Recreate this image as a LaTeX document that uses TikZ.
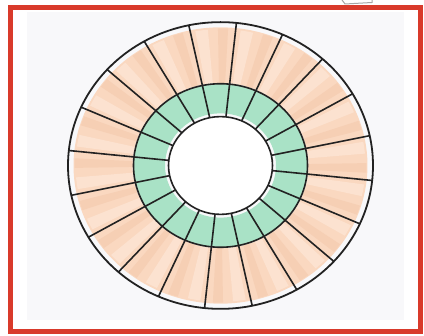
\documentclass[tikz,border=0pt]{standalone}
\definecolor{redb}{HTML}{D93A2B}
\definecolor{bg}{HTML}{F8F8FA}
\definecolor{peach}{HTML}{FAD8C0}
\definecolor{peachl}{HTML}{FCE2D0}
\definecolor{peachd}{HTML}{F6CFB4}
\definecolor{mint}{HTML}{A9E2C6}
\definecolor{ink}{HTML}{222222}
\tikzset{
  spoke/.style={draw=ink, line width=1.6pt},
  ringline/.style={draw=ink, line width=1.6pt},
}
\begin{document}
\begin{tikzpicture}[x=1pt,y=-1pt]
\useasboundingbox (0,0) rectangle (424,336);
\fill[white] (0,0) rectangle (424,336);
\fill[bg] (27,12) rectangle (404,320);
\draw[redb, line width=5pt] (10.5,7.5) rectangle (420.5,332);
\draw[gray!70, line width=1pt] (342,0) -- (345,4) -- (372,2.5) -- (372,0);
\begin{scope}[shift={(220.5,165.5)}, yscale=0.94]
  \foreach \k [evaluate=\k as \a using 6+18*\k] in {0,...,19} {
    \fill[peach] (\a:88) arc[start angle=\a, end angle=\a+18, radius=88]
      -- (\a+18:147) arc[start angle=\a+18, end angle=\a, radius=147] -- cycle;
    \fill[peachl] (\a+2:88) arc[start angle=\a+2, end angle=\a+7, radius=88]
      -- (\a+7:145) arc[start angle=\a+7, end angle=\a+2, radius=145] -- cycle;
    \fill[peachd] (\a+11:88) arc[start angle=\a+11, end angle=\a+15, radius=88]
      -- (\a+15:146) arc[start angle=\a+15, end angle=\a+11, radius=146] -- cycle;
  }
  \fill[mint, even odd rule] (0,0) circle[radius=87] (0,0) circle[radius=55.5];
  \fill[white] (0,0) circle[radius=52];
  \foreach \k [evaluate=\k as \a using 6+18*\k] in {0,...,19} {
    \path[spoke] (\a:52) -- (\a:152.5);
  }
  \path[draw=ink, line width=1.8pt] (0,0) circle[radius=152.5];
  \path[ringline] (0,0) circle[radius=87];
  \path[ringline] (0,0) circle[radius=52];
\end{scope}
\end{tikzpicture}
\end{document}
